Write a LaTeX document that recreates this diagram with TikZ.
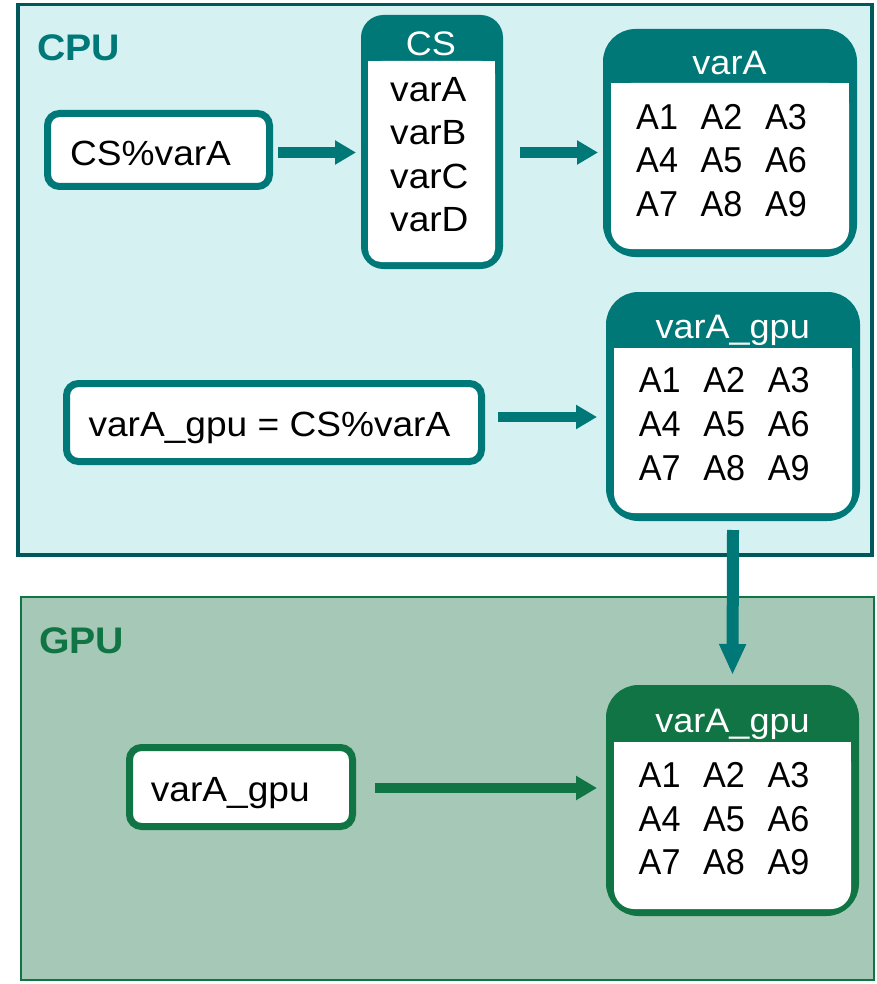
\documentclass[tikz,border=0pt]{standalone}
\usepackage{fontspec}
\setmainfont{Liberation Sans}[FakeStretch=1.06]
\newfontfamily\cellfont{Liberation Sans}[FakeStretch=0.95]
\usetikzlibrary{arrows.meta,calc}

\definecolor{cputeal}{HTML}{007878}
\definecolor{cpuline}{HTML}{00585A}
\definecolor{cpufill}{HTML}{D5F1F1}
\definecolor{gpugreen}{HTML}{117444}
\definecolor{gpufill}{HTML}{A5C9B6}

\tikzset{
  frame/.style={rectangle, inner sep=0pt},
  varbox/.style={rectangle, rounded corners=12pt, draw=#1, line width=7pt, fill=white, inner sep=0pt},
  tblbox/.style={rectangle, rounded corners=#1, line width=7pt, inner sep=0pt},
  txt/.style={inner sep=0pt, anchor=base west, font=\fontsize{35}{42}\selectfont},
  cell/.style={inner sep=0pt, anchor=base west, font=\cellfont\fontsize{36}{40}\selectfont},
  head/.style={inner sep=0pt, anchor=base, text=white, font=\fontsize{34}{40}\selectfont},
  tag/.style={inner sep=0pt, anchor=base west, font=\fontsize{37}{40}\selectfont\bfseries},
  arr/.style={draw=#1, line width=10.5pt, -{Triangle[length=21pt,width=23pt]}},
}
\newcommand{\cellrow}[3]{\makebox[64.5pt][l]{#1}\makebox[64.5pt][l]{#2}#3}

\begin{document}
\begin{tikzpicture}[x=1pt,y=-1pt]
\fill[white] (0,0) rectangle (877,984);
\useasboundingbox (0,0) rectangle (877,984);

% host and device areas
\node[frame, draw=cpuline, fill=cpufill, line width=3.5pt,
      minimum width=854pt, minimum height=550.5pt] (cpu) at (445,279.75) {};
\node[frame, draw=gpugreen, fill=gpufill, line width=2pt,
      minimum width=853pt, minimum height=383.5pt] (gpu) at (447,788.25) {};
\node[tag, text=cputeal] (cpulabel) at (37,61) {CPU};
\node[tag, text=gpugreen] (gpulabel) at (39,653) {GPU};

% simple variable boxes
\node[varbox=cputeal, minimum width=222pt, minimum height=73pt] (cs1) at (158.5,150) {};
\node[txt] (cs1t) at (70,165.7) {CS\%varA};

\node[varbox=cputeal, minimum width=415pt, minimum height=78pt] (expr) at (274,422.5) {};
\node[txt] (exprt) at (88.3,436) {varA\_gpu = CS\%varA};

\node[varbox=gpugreen, minimum width=223pt, minimum height=79pt] (gvar) at (241,787) {};
\node[txt] (gvart) at (150.7,801.7) {varA\_gpu};

% derived type CS
\node[tblbox=19pt, draw=cputeal, fill=cputeal, minimum width=135pt, minimum height=247pt] (csbox) at (432,142) {};
\fill[white, rounded corners=13pt] (368,61) rectangle (495,262);
\fill[white] (368,61) rectangle (495,90);
\node[head] (csh) at (431,55.7) {CS};
\node[txt] (csa) at (390,102) {varA};
\node[txt] (csb) at (390,145) {varB};
\node[txt] (csc) at (390,188.5) {varC};
\node[txt] (csd) at (390,231.5) {varD};

% array varA on the host
\node[tblbox=29pt, draw=cputeal, fill=cputeal, minimum width=247pt, minimum height=221pt] (ta) at (730,143) {};
\fill[white, rounded corners=20pt] (611,83) rectangle (849,249);
\fill[white] (611,83) rectangle (849,120);
\node[head] (tah) at (729.5,74.5) {varA};
\node[cell] (ta1) at (636,129.3) {\cellrow{A1}{A2}{A3}};
\node[cell] (ta2) at (636,173) {\cellrow{A4}{A5}{A6}};
\node[cell] (ta3) at (636,216.5) {\cellrow{A7}{A8}{A9}};

% array varA_gpu on the host
\node[tblbox=29pt, draw=cputeal, fill=cputeal, minimum width=247pt, minimum height=222pt] (tb) at (733,406.5) {};
\fill[white, rounded corners=20pt] (614,348) rectangle (852,513);
\fill[white] (614,348) rectangle (852,385);
\node[head] (tbh) at (732.7,338.5) {varA\_gpu};
\node[cell] (tb1) at (638.6,392) {\cellrow{A1}{A2}{A3}};
\node[cell] (tb2) at (638.6,436) {\cellrow{A4}{A5}{A6}};
\node[cell] (tb3) at (638.6,480) {\cellrow{A7}{A8}{A9}};

% array varA_gpu on the device
\node[tblbox=29pt, draw=gpugreen, fill=gpugreen, minimum width=246pt, minimum height=224pt] (tc) at (732.5,800.5) {};
\fill[white, rounded corners=20pt] (614,742) rectangle (851,909);
\fill[white] (614,742) rectangle (851,780);
\node[head] (tch) at (732.5,732.5) {varA\_gpu};
\node[cell] (tc1) at (638.5,787) {\cellrow{A1}{A2}{A3}};
\node[cell] (tc2) at (638.5,831) {\cellrow{A4}{A5}{A6}};
\node[cell] (tc3) at (638.5,874.7) {\cellrow{A7}{A8}{A9}};

% connectors
\draw[arr=cputeal] ($(cs1.east)+(5,2.5)$) coordinate (s1) -- ($(s1 -| csbox.west)+(-5,0)$);
\draw[arr=cputeal] ($(csbox.east)+(17,10.5)$) coordinate (s2) -- ($(s2 -| ta.west)+(-5,0)$);
\draw[arr=cputeal] ($(expr.east)+(13,-5.5)$) coordinate (s3) -- ($(s3 -| tb.west)+(-9,0)$);
\draw[arr=gpugreen] ($(gvar.east)+(19,1)$) coordinate (s4) -- ($(s4 -| tc.west)+(-9,0)$);
\draw[draw=cputeal, line width=12pt, -{Triangle[length=31pt,width=25pt]}]
  ($(tb.south)+(0,9)$) -- ($(tc.north)+(0,-10)$);
\end{tikzpicture}
\end{document}
